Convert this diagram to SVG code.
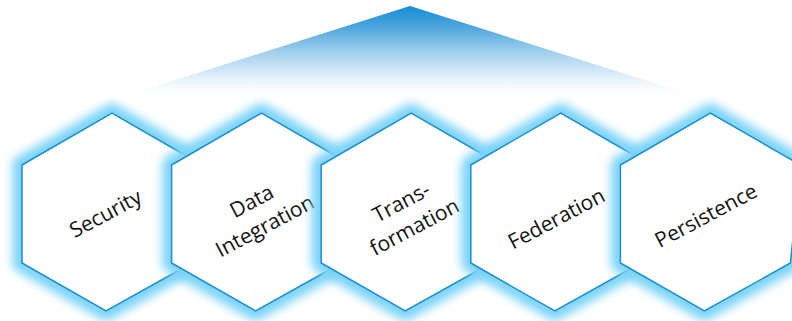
<svg xmlns="http://www.w3.org/2000/svg" width="792" height="321" viewBox="0 0 792 321">
  <defs>
    <linearGradient id="roof" x1="0" y1="6" x2="0" y2="100" gradientUnits="userSpaceOnUse">
      <stop offset="0" stop-color="#128bd5"/>
      <stop offset="0.25" stop-color="#55aadf"/>
      <stop offset="0.5" stop-color="#a4d0ee"/>
      <stop offset="0.75" stop-color="#e0eff9"/>
      <stop offset="1" stop-color="#ffffff" stop-opacity="0"/>
    </linearGradient>
    <filter id="glow" x="-25%" y="-25%" width="150%" height="150%">
      <feGaussianBlur stdDeviation="5"/>
    </filter>
    <path id="hex" d="M0,165 L90,113 L180,165 L170,263 L84,311 L0,263 Z"/>
  </defs>
  <style>
    .glow { fill: none; stroke: #7dd4f8; stroke-width: 19; stroke-linejoin: round; filter: url(#glow); }
    .body { fill: #ffffff; stroke: #1a8ed3; stroke-width: 1.5; stroke-linejoin: miter; }
    .lbl { font-family: "Open Sans", "Liberation Sans", Arial, sans-serif; font-size: 21px; font-weight: 400; fill: #111111; text-anchor: middle; }
  </style>
  <rect width="792" height="321" fill="#ffffff"/>
  <g id="roof-shape">
    <polygon points="410,6 708,100 112,100" fill="url(#roof)"/>
  </g>
  <g id="connectors"></g>
  <g id="node-security" transform="translate(22,0)">
    <use href="#hex" class="glow"/>
    <use href="#hex" class="body"/>
    <text class="lbl" transform="translate(87,220) rotate(-28)">Security</text>
  </g>
  <g id="node-data-integration" transform="translate(171.6,0)">
    <use href="#hex" class="glow"/>
    <use href="#hex" class="body"/>
    <text class="lbl" transform="translate(90,220) rotate(-28)"><tspan x="0" y="-14">Data</tspan><tspan x="0" y="14">Integration</tspan></text>
  </g>
  <g id="node-transformation" transform="translate(321.2,0)">
    <use href="#hex" class="glow"/>
    <use href="#hex" class="body"/>
    <text class="lbl" transform="translate(90,221) rotate(-28)"><tspan x="0" y="-14">Trans-</tspan><tspan x="0" y="14">formation</tspan></text>
  </g>
  <g id="node-federation" transform="translate(470.8,0)">
    <use href="#hex" class="glow"/>
    <use href="#hex" class="body"/>
    <text class="lbl" transform="translate(89,225) rotate(-28)">Federation</text>
  </g>
  <g id="node-persistence" transform="translate(620.4,0)">
    <use href="#hex" class="glow"/>
    <use href="#hex" class="body"/>
    <text class="lbl" transform="translate(89,222) rotate(-28)">Persistence</text>
  </g>
</svg>
